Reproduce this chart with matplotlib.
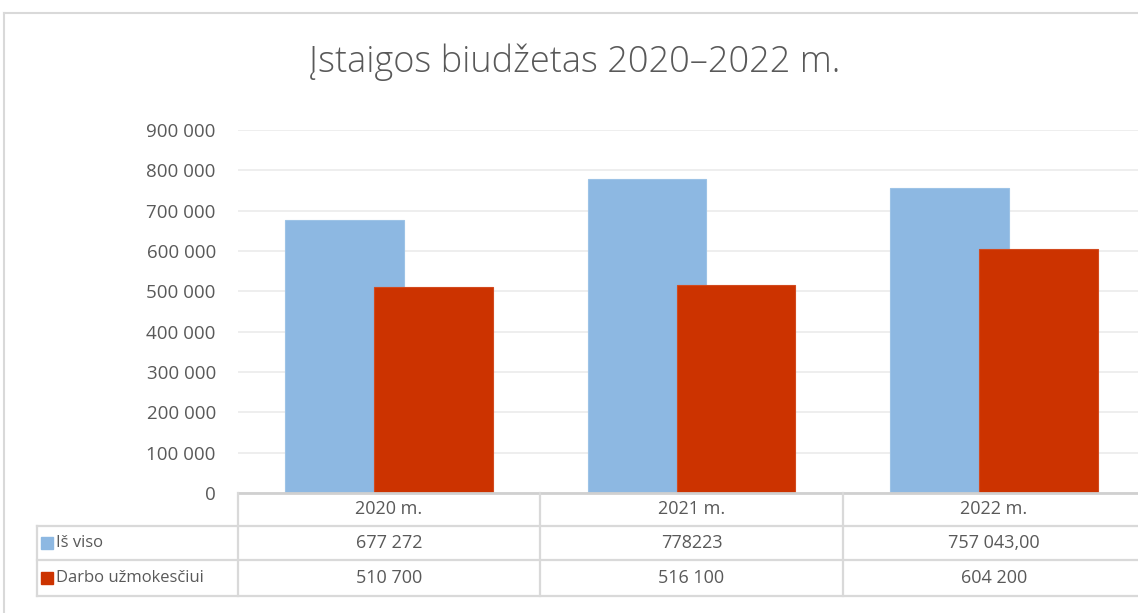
import matplotlib
matplotlib.use("Agg")
import matplotlib.pyplot as plt
from matplotlib.lines import Line2D
from matplotlib.patches import Rectangle
import numpy as np

# Chart data
categories = ["2020 m.", "2021 m.", "2022 m."]
series_names = ["Iš viso", "Darbo užmokesčiui"]
total = [677272, 778223, 757043]
salaries = [510700, 516100, 604200]
table_rows = [["677 272", "778223", "757 043,00"],
              ["510 700", "516 100", "604 200"]]
y_ticks = list(range(0, 900001, 100000))
title = "Įstaigos biudžetas 2020–2022 m."

colors = ["#8DB8E2", "#CC3300"]
text_col = "#595959"
line_col = "#D9D9D9"

plt.rcParams['font.family'] = ['Open Sans', 'DejaVu Sans']

W, H = 1138, 613
fig = plt.figure(figsize=(W / 100, H / 100), dpi=100)


def fx(x):
    return x / W


def fy(y):
    return 1 - y / H


# plot area in pixels
left, right, top, bottom = 238, 1145, 130, 493
ax = fig.add_axes([fx(left), fy(bottom), fx(right - left), (bottom - top) / H])
ax.set_xlim(-0.5, 2.5)
ax.set_ylim(0, 900000)

x = np.arange(len(categories))
bw = 0.393
off = 0.147
ax.bar(x - off, total, bw, color=colors[0], edgecolor="#9DC3E6", linewidth=0.8, zorder=2)
ax.bar(x + off, salaries, bw, color=colors[1], edgecolor="#D24A1F", linewidth=0.8, zorder=3)

ax.set_yticks(y_ticks)
ax.set_yticklabels([f"{v:,}".replace(",", " ") for v in y_ticks])
ax.tick_params(axis='y', length=0, pad=16, labelsize=13.5, labelcolor=text_col)
ax.set_xticks([])
ax.grid(axis='y', color="#EBEBEB", linewidth=1.2, zorder=0)
for s in ax.spines.values():
    s.set_visible(False)
ax.set_axisbelow(True)

# outer chart border
fig.add_artist(Line2D([fx(4), fx(1145)], [fy(13), fy(13)], color=line_col, lw=1.5))
fig.add_artist(Line2D([fx(4), fx(4)], [fy(13), fy(620)], color=line_col, lw=1.5))

# title
fig.text(fx(575), fy(62), title, ha='center', va='center', fontsize=26,
         color=text_col, fontweight='light')

# data table
row_y = [493, 526, 560, 596]
col_x = [238, 540, 843, 1145]
lab_x = 37
lw = 1.6
fig.add_artist(Line2D([fx(left), fx(right)], [fy(row_y[0]), fy(row_y[0])], color="#D0D0D0", lw=2))
for yy in row_y[1:]:
    fig.add_artist(Line2D([fx(lab_x), fx(right)], [fy(yy), fy(yy)], color=line_col, lw=lw))
fig.add_artist(Line2D([fx(lab_x), fx(lab_x)], [fy(row_y[1]), fy(row_y[3])], color=line_col, lw=lw))
for xx in col_x:
    fig.add_artist(Line2D([fx(xx), fx(xx)], [fy(row_y[0]), fy(row_y[3])], color=line_col, lw=lw))

for i, cat in enumerate(categories):
    cx = (col_x[i] + col_x[i + 1]) / 2
    fig.text(fx(cx), fy((row_y[0] + row_y[1]) / 2), cat, ha='center', va='center',
             fontsize=13, color=text_col)
    for r in range(2):
        fig.text(fx(cx), fy((row_y[r + 1] + row_y[r + 2]) / 2), table_rows[r][i],
                 ha='center', va='center', fontsize=13, color=text_col)

for r, name in enumerate(series_names):
    cy = (row_y[r + 1] + row_y[r + 2]) / 2
    fig.add_artist(Rectangle((fx(41), fy(cy + 6)), fx(12), 12 / H, color=colors[r]))
    fig.text(fx(56), fy(cy), name, ha='left', va='center', fontsize=12, color=text_col)

fig.savefig("out.png", dpi=100)
